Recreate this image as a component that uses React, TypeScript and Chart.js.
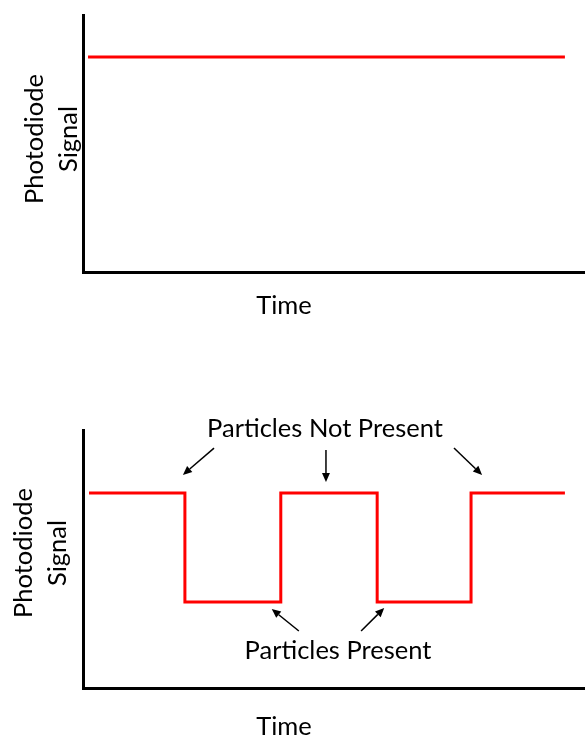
import React, { useEffect, useRef } from "react";
import { Chart, registerables } from "chart.js";

Chart.register(...registerables);

// ---- data ----
const timeRange = [0, 100];
const signalRange = [0, 10];

// top panel: constant signal
const steadyTime = [1, 96];
const steadySignal = [8.37, 8.37];

// bottom panel: square wave (stepped)
const waveTime = [1.2, 20.3, 39.4, 58.6, 77.3, 96];
const waveSignal = [7.56, 3.33, 7.56, 3.33, 7.56, 7.56];

// labels
const yTitleLines = ["Photodiode", "Signal"];
const xTitle = "Time";
const annotLabels = ["Particles Not Present", "Particles Present"];
const annotLabelTime = [48.2, 50.8];
const annotLabelSignal = [9.73, 1.12];

// arrows (data space)
const arrowFromTime = [26.1, 48.4, 73.9, 43.0, 55.4];
const arrowFromSignal = [9.3, 9.22, 9.3, 2.21, 2.21];
const arrowToTime = [19.9, 48.4, 79.5, 37.6, 60.0];
const arrowToSignal = [8.26, 7.98, 8.26, 3.06, 3.1];

const FONT = "25.5px Lato";

type LabelCfg = {
  yTitleX: number[];
  yTitleY: number;
  xTitleX: number;
  xTitleY: number;
  annotations: boolean;
};

const textPlugin = {
  id: "textPlugin",
  afterDraw(chart: any) {
    const cfg: LabelCfg = chart.options.plugins.textPlugin;
    if (!cfg) return;
    const ctx: CanvasRenderingContext2D = chart.ctx;
    ctx.save();
    ctx.fillStyle = "#000";
    ctx.font = FONT;
    ctx.textAlign = "center";
    ctx.textBaseline = "alphabetic";
    // y title, rotated
    yTitleLines.forEach((t, i) => {
      ctx.save();
      ctx.translate(cfg.yTitleX[i], cfg.yTitleY);
      ctx.rotate(-Math.PI / 2);
      ctx.fillText(t, 0, 0);
      ctx.restore();
    });
    // x title
    ctx.fillText(xTitle, cfg.xTitleX, cfg.xTitleY);

    if (cfg.annotations) {
      const xs = chart.scales.x;
      const ys = chart.scales.y;
      annotLabels.forEach((t, i) => {
        ctx.fillText(
          t,
          xs.getPixelForValue(annotLabelTime[i]),
          ys.getPixelForValue(annotLabelSignal[i])
        );
      });
      ctx.strokeStyle = "#000";
      ctx.lineWidth = 1.5;
      for (let i = 0; i < arrowFromTime.length; i++) {
        const x1 = xs.getPixelForValue(arrowFromTime[i]);
        const y1 = ys.getPixelForValue(arrowFromSignal[i]);
        const x2 = xs.getPixelForValue(arrowToTime[i]);
        const y2 = ys.getPixelForValue(arrowToSignal[i]);
        const ang = Math.atan2(y2 - y1, x2 - x1);
        const headLen = 9;
        const headW = 4;
        const bx = x2 - headLen * Math.cos(ang);
        const by = y2 - headLen * Math.sin(ang);
        ctx.beginPath();
        ctx.moveTo(x1, y1);
        ctx.lineTo(bx, by);
        ctx.stroke();
        ctx.beginPath();
        ctx.moveTo(x2, y2);
        ctx.lineTo(bx + headW * Math.sin(ang), by - headW * Math.cos(ang));
        ctx.lineTo(bx - headW * Math.sin(ang), by + headW * Math.cos(ang));
        ctx.closePath();
        ctx.fill();
      }
    }
    ctx.restore();
  },
};

function makeConfig(
  xs: number[],
  ys: number[],
  stepped: any,
  padding: any,
  labels: LabelCfg
): any {
  return {
    type: "line",
    data: {
      datasets: [
        {
          data: xs.map((x, i) => ({ x, y: ys[i] })),
          borderColor: "#FF0000",
          borderWidth: 3,
          pointRadius: 0,
          stepped,
          borderJoinStyle: "miter",
          borderCapStyle: "butt",
          fill: false,
        },
      ],
    },
    options: {
      responsive: false,
      animation: false,
      events: [],
      layout: { padding },
      plugins: {
        legend: { display: false },
        tooltip: { enabled: false },
        textPlugin: labels,
      },
      scales: {
        x: {
          type: "linear",
          min: timeRange[0],
          max: timeRange[1],
          ticks: { display: false },
          grid: { display: false, drawTicks: false },
          border: { display: true, color: "#000", width: 3 },
        },
        y: {
          type: "linear",
          min: signalRange[0],
          max: signalRange[1],
          ticks: { display: false },
          grid: { display: false, drawTicks: false },
          border: { display: true, color: "#000", width: 3 },
        },
      },
    },
    plugins: [textPlugin],
  };
}

export default function App() {
  const topRef = useRef<HTMLCanvasElement>(null);
  const botRef = useRef<HTMLCanvasElement>(null);

  useEffect(() => {
    const c1 = new Chart(
      topRef.current as HTMLCanvasElement,
      makeConfig(
        steadyTime,
        steadySignal,
        false,
        { left: 83, top: 15, right: 0, bottom: 97 },
        { yTitleX: [43, 77], yTitleY: 139, xTitleX: 284, xTitleY: 314, annotations: false }
      )
    );
    const c2 = new Chart(
      botRef.current as HTMLCanvasElement,
      makeConfig(
        waveTime,
        waveSignal,
        "before",
        { left: 83, top: 61, right: 0, bottom: 50 },
        { yTitleX: [32, 66], yTitleY: 184, xTitleX: 284, xTitleY: 366, annotations: true }
      )
    );
    return () => {
      c1.destroy();
      c2.destroy();
    };
  }, []);

  return (
    <div
      style={{
        position: "absolute",
        left: 0,
        top: 0,
        width: 585,
        height: 738,
        background: "#fff",
      }}
    >
      <canvas
        ref={topRef}
        width={585}
        height={369}
        style={{ position: "absolute", left: 0, top: 0, width: 585, height: 369 }}
      />
      <canvas
        ref={botRef}
        width={585}
        height={369}
        style={{ position: "absolute", left: 0, top: 369, width: 585, height: 369 }}
      />
    </div>
  );
}
